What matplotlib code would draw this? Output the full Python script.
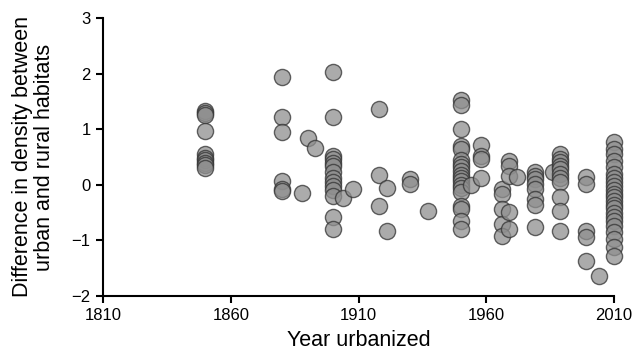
import matplotlib.pyplot as plt

plt.rcParams['font.family'] = ['Liberation Sans', 'DejaVu Sans']

# year of urbanization and density differences observed at that year
years = [1850, 1880, 1888, 1890, 1893, 1900, 1904, 1908, 1918, 1921, 1930, 1937,
         1950, 1954, 1958, 1966, 1969, 1972, 1979, 1986, 1989, 1999, 2004, 2010]
diffs = [
    [1.33, 1.29, 1.25, 0.96, 0.55, 0.48, 0.44, 0.40, 0.36, 0.31],
    [1.93, 1.22, 0.95, 0.07, -0.07, -0.12],
    [-0.15],
    [0.85],
    [0.67],
    [2.02, 1.22, 0.52, 0.47, 0.40, 0.33, 0.23, 0.12, 0.05, -0.02, -0.10, -0.20, -0.58, -0.79],
    [-0.24],
    [-0.07],
    [1.37, 0.18, -0.38],
    [-0.05, -0.83],
    [0.11, 0.02],
    [-0.47],
    [1.52, 1.43, 1.00, 0.70, 0.65, 0.45, 0.38, 0.32, 0.25, 0.18, 0.12, 0.06, 0.00,
     -0.06, -0.13, -0.38, -0.43, -0.65, -0.79],
    [0.00],
    [0.72, 0.52, 0.47, 0.13],
    [-0.07, -0.16, -0.43, -0.70, -0.92],
    [0.43, 0.34, 0.16, -0.49, -0.79],
    [0.14],
    [0.23, 0.16, 0.11, 0.02, -0.07, -0.25, -0.36, -0.76],
    [0.23],
    [0.56, 0.47, 0.41, 0.34, 0.28, 0.20, 0.12, 0.05, -0.22, -0.47, -0.83],
    [0.14, 0.02, -0.83, -0.94, -1.37],
    [-1.64],
    [0.77, 0.65, 0.56, 0.43, 0.32, 0.20, 0.12, 0.05, -0.02, -0.10, -0.16, -0.22, -0.30,
     -0.36, -0.42, -0.50, -0.58, -0.66, -0.75, -0.85, -0.97, -1.12, -1.28],
]

x = []
y = []
for yr, vals in zip(years, diffs):
    for v in vals:
        x.append(yr)
        y.append(v)

fig = plt.figure(figsize=(6.33, 3.6), dpi=100)
ax = fig.add_axes([0.163, 0.178, 0.807, 0.772])

ax.scatter(x, y, s=135, facecolor='#8f8f8f', edgecolor='#333333', linewidth=1.0,
           alpha=0.75, zorder=3, clip_on=False)

ax.set_xlim(1810, 2010)
ax.set_ylim(-2, 3)
ax.set_xticks([1810, 1860, 1910, 1960, 2010])
ax.set_yticks([-2, -1, 0, 1, 2, 3])

for side in ['top', 'right']:
    ax.spines[side].set_visible(False)
for side in ['left', 'bottom']:
    ax.spines[side].set_linewidth(1.5)

ax.tick_params(direction='out', length=5, width=1.5, labelsize=12, pad=4)

ax.set_xlabel('Year urbanized', fontsize=15.5, labelpad=5)
ax.set_ylabel('Difference in density between\nurban and rural habitats', fontsize=15.5,
              labelpad=12, linespacing=1.05)

fig.savefig('out.png', dpi=100)
